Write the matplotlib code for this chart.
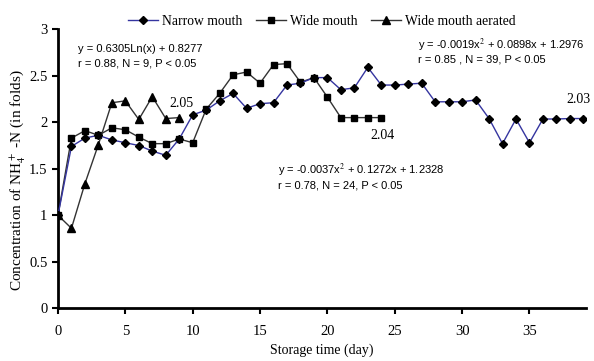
import matplotlib
matplotlib.use("Agg")
import matplotlib.pyplot as plt
import numpy as np

plt.rcParams['font.family'] = ['Liberation Serif', 'DejaVu Serif']
plt.rcParams['mathtext.fontset'] = 'stix'

# storage days
days_narrow = list(range(0, 40))
days_wide = list(range(0, 25))
days_aer = list(range(0, 10))

narrow = [1.00, 1.74, 1.83, 1.86, 1.81, 1.78, 1.75, 1.69, 1.645, 1.82,
          2.08, 2.13, 2.23, 2.31, 2.15, 2.20, 2.21, 2.40, 2.42, 2.48,
          2.48, 2.35, 2.37, 2.59, 2.40, 2.40, 2.41, 2.42, 2.22, 2.22,
          2.22, 2.24, 2.04, 1.77, 2.035, 1.78, 2.035, 2.035, 2.04, 2.04]
wide = [1.00, 1.83, 1.91, 1.86, 1.94, 1.92, 1.84, 1.77, 1.77, 1.82,
        1.78, 2.14, 2.31, 2.51, 2.54, 2.42, 2.62, 2.63, 2.43, 2.48,
        2.27, 2.05, 2.05, 2.05, 2.05]
aerated = [1.00, 0.86, 1.34, 1.76, 2.21, 2.23, 2.03, 2.275, 2.04, 2.05]

xticks = [0, 5, 10, 15, 20, 25, 30, 35]
yticks = [0, 0.5, 1, 1.5, 2, 2.5, 3]
ytick_labels = ["0", "0.5", "1", "1.5", "2", "2.5", "3"]

fig = plt.figure(figsize=(5.94, 3.61), dpi=100)
ax = fig.add_axes([0.0976, 0.146, 0.889, 0.773])

ax.plot(days_narrow, narrow, color="#3535a0", lw=1.0, marker="D", ms=4,
        mfc="black", mec="black", label="Narrow mouth", zorder=3)
ax.plot(days_wide, wide, color="#333333", lw=1.0, marker="s", ms=5,
        mfc="black", mec="black", label="Wide mouth", zorder=2)
ax.plot(days_aer, aerated, color="#333333", lw=1.0, marker="^", ms=5.5,
        mfc="black", mec="black", label="Wide mouth aerated", zorder=2)

ax.set_xlim(0, 39.2)
ax.set_ylim(0, 3)
ax.set_xticks(xticks)
ax.set_yticks(yticks)
ax.set_yticklabels(ytick_labels)
ax.tick_params(axis="both", labelsize=10.5, direction="out", length=4, width=1.5)
ax.tick_params(axis="x", pad=8)
for s in ["top", "right"]:
    ax.spines[s].set_visible(False)
for s in ["left", "bottom"]:
    ax.spines[s].set_linewidth(2)

ax.set_xlabel("Storage time (day)", fontsize=10)
ax.set_ylabel(r"Concentration of NH$_4^+$ -N (in folds)", fontsize=11)
ax.yaxis.set_label_coords(-0.056, 0.46)

ax.legend(loc="lower center", bbox_to_anchor=(0.5, 0.985), ncol=3, frameon=False,
          fontsize=9.8, handlelength=2.2, handletextpad=0.3, columnspacing=1.0,
          borderaxespad=0)

# fit equations
eq = dict(family="Liberation Sans", fontsize=8, va="center", ha="left")
ax.text(1.45, 2.79, "y = 0.6305Ln(x) + 0.8277", **eq)
ax.text(1.45, 2.63, "r = 0.88, N = 9, P < 0.05", **eq)
ax.text(26.7, 2.83, r"y = -0.0019x$^2$ + 0.0898x + 1.2976", **eq)
ax.text(26.7, 2.67, "r = 0.85 , N = 39, P < 0.05", **eq)
ax.text(16.3, 1.48, r"y = -0.0037x$^2$ + 0.1272x + 1.2328", **eq)
ax.text(16.3, 1.32, "r = 0.78, N = 24, P < 0.05", **eq)

# end values
ax.text(9.15, 2.2, "2.05", fontsize=10, ha="center", va="center")
ax.text(24.1, 1.86, "2.04", fontsize=10, ha="center", va="center")
ax.text(38.6, 2.25, "2.03", fontsize=10, ha="center", va="center")

fig.savefig("out.png", dpi=100)
